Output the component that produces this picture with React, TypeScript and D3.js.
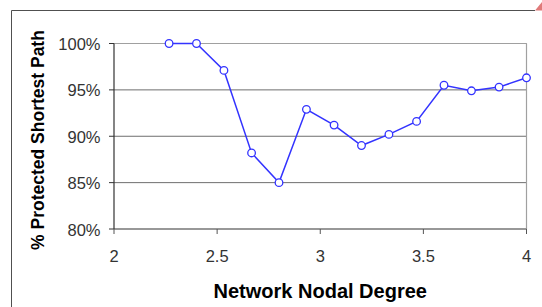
import React from "react";
import * as d3 from "d3";

// network nodal degree (x) and % protected shortest path (y)
const degrees = [2.267, 2.4, 2.533, 2.667, 2.8, 2.933, 3.067, 3.2, 3.333, 3.467, 3.6, 3.733, 3.867, 4.0];
const protectedPct = [100, 100, 97.1, 88.2, 85.0, 92.9, 91.2, 89.0, 90.2, 91.6, 95.5, 94.9, 95.3, 96.3];
const xTicks = [2, 2.5, 3, 3.5, 4];
const yTicks = [80, 85, 90, 95, 100];

const W = 542;
const H = 307;
const margin = { top: 43.5, right: 15.5, bottom: 78, left: 114 };
const font = "Arial, 'Liberation Sans', sans-serif";

export default function App() {
  const x = d3.scaleLinear().domain([2, 4]).range([margin.left, W - margin.right]);
  const y = d3.scaleLinear().domain([80, 100]).range([H - margin.bottom, margin.top]);

  const pts = degrees.map((d, i) => ({ x: d, y: protectedPct[i] }));
  const line = d3.line<{ x: number; y: number }>()
    .x(d => x(d.x))
    .y(d => y(d.y));

  const [x0, x1] = x.range();
  const [yb, yt] = y.range();

  return (
    <svg width={W} height={H} style={{ position: "absolute", left: 0, top: 0, background: "#fff" }}>
      {/* outer chart frame */}
      <line x1={11.5} y1={10.5} x2={535} y2={10.5} stroke="#505050" strokeWidth={1} />
      <line x1={11.5} y1={10.5} x2={11.5} y2={H} stroke="#505050" strokeWidth={1} />
      <path d="M535,10.5 L542,10.5 L542,2 Z" fill="#e07a7a" />

      {/* gridlines */}
      {yTicks.map(t => (
        <line key={"g" + t} x1={x0} x2={x1} y1={y(t)} y2={y(t)} stroke="#6e6e6e" strokeWidth={1} />
      ))}
      {/* plot border */}
      <line x1={x1} x2={x1} y1={yt} y2={yb} stroke="#a0a0a0" strokeWidth={1.2} />
      <line x1={x0} x2={x1} y1={yt} y2={yt} stroke="#a0a0a0" strokeWidth={1.2} />
      <line x1={x0} x2={x1} y1={yb} y2={yb} stroke="#7a7a7a" strokeWidth={1.2} />
      <line x1={x0} x2={x0} y1={yt} y2={yb} stroke="#333" strokeWidth={1.2} />

      {/* y ticks + labels */}
      {yTicks.map(t => (
        <g key={"y" + t}>
          <line x1={x0 - 5} x2={x0} y1={y(t)} y2={y(t)} stroke="#333" />
          <text x={100.5} y={y(t) + 6.5} textAnchor="end" fontFamily={font} fontSize={16.5} fill="#333">
            {t}%
          </text>
        </g>
      ))}

      {/* x ticks + labels */}
      {xTicks.map(t => (
        <g key={"x" + t}>
          <line x1={x(t)} x2={x(t)} y1={yb} y2={yb + 5} stroke="#555" />
          <text x={x(t)} y={261.5} textAnchor="middle" fontFamily={font} fontSize={16.5} fill="#333">
            {d3.format("")(t)}
          </text>
        </g>
      ))}

      {/* series */}
      <path d={line(pts) || ""} fill="none" stroke="#3333ff" strokeWidth={1.5} />
      {pts.map((p, i) => (
        <circle key={i} cx={x(p.x)} cy={y(p.y)} r={3.8} fill="#fff" stroke="#3333ff" strokeWidth={1.3} />
      ))}

      {/* axis titles */}
      <text x={(x0 + x1) / 2} y={298} textAnchor="middle" fontFamily={font} fontWeight="bold" fontSize={20} fill="#000">
        Network Nodal Degree
      </text>
      <text
        transform={`translate(44,${140}) rotate(-90)`}
        textAnchor="middle"
        fontFamily={font}
        fontWeight="bold"
        fontSize={17.5}
        fill="#000"
      >
        % Protected Shortest Path
      </text>
    </svg>
  );
}
